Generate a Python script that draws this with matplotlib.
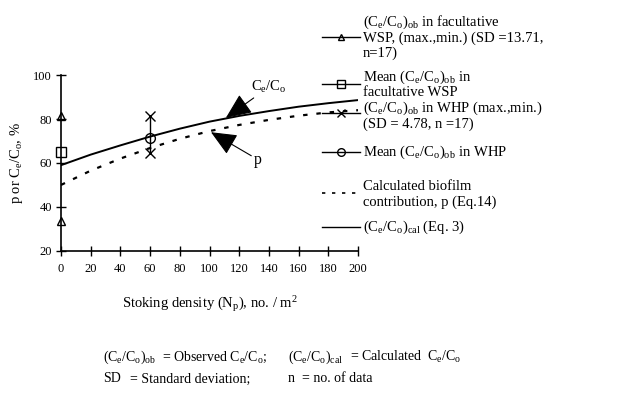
import matplotlib
matplotlib.use("Agg")
import matplotlib.pyplot as plt
from matplotlib.lines import Line2D

plt.rcParams['font.family'] = ['Liberation Serif', 'DejaVu Serif']
plt.rcParams['mathtext.fontset'] = 'custom'
plt.rcParams['mathtext.rm'] = 'Liberation Serif'
plt.rcParams['mathtext.it'] = 'Liberation Serif:italic'

# data
density = [0, 20, 40, 60, 80, 100, 120, 140, 160, 180, 200]
ce_co_cal = [59.0, 63.8, 68.0, 72.0, 75.6, 78.8, 81.4, 83.6, 85.6, 87.2, 88.6]
p_calc = [50.0, 56.5, 62.0, 66.8, 71.0, 74.5, 77.3, 79.6, 81.5, 83.0, 84.0]

wsp_x = [0, 0]
wsp_maxmin = [81.2, 33.5]
wsp_mean = [65.2]
whp_x = [60, 60]
whp_maxmin = [81.5, 64.5]
whp_mean = [71.5]

fig = plt.figure(figsize=(6.4, 3.97), dpi=100)
ax = fig.add_axes([0.0953, 0.368, 0.4641, 0.443])

ax.plot(density, ce_co_cal, color='black', lw=1.4)
ax.plot(density, p_calc, color='black', lw=1.6, linestyle=(0, (2, 4)))

ax.plot(whp_x, whp_maxmin, color='black', lw=1.0, marker='x', ms=7, clip_on=False)
ax.plot(whp_x[:1], whp_mean, color='black', marker='o', ms=7, mfc='none', clip_on=False)
ax.plot(wsp_x, wsp_maxmin, color='black', lw=0, marker='^', ms=6, mfc='none', clip_on=False)
ax.plot(wsp_x[:1], wsp_mean, color='black', marker='s', ms=6.5, mfc='none', clip_on=False)

ax.set_xlim(0, 200)
ax.set_ylim(20, 100)
ax.set_xticks(range(0, 201, 20))
ax.set_yticks(range(20, 101, 20))
for s in ['top', 'right']:
    ax.spines[s].set_visible(False)
ax.spines['left'].set_linewidth(1.2)
ax.spines['bottom'].set_linewidth(1.2)
ax.tick_params(direction='inout', length=7, width=1.0, labelsize=9, pad=3)
ax.tick_params(axis='x', pad=5)

ax.set_xlabel(r'Stoking density (N$_\mathregular{p}$), no. / m$^\mathregular{2}$', fontsize=10.5, labelpad=14)
ax.set_ylabel(r'p or C$_\mathregular{e}$/C$_\mathregular{o}$, %', fontsize=10.5, labelpad=6)

arrow = dict(arrowstyle='-|>,head_length=1.6,head_width=0.7', color='black', lw=0.8,
             mutation_scale=10, shrinkA=0, shrinkB=0)
ax.annotate(r'C$_\mathregular{e}$/C$_\mathregular{o}$', xy=(111, 80.5), xytext=(128, 94.5),
            fontsize=10.5, va='center', ha='left', arrowprops=arrow)
ax.annotate('p', xy=(101, 74.0), xytext=(130, 61.5), fontsize=11.5,
            va='center', ha='left', arrowprops=arrow)

# legend, drawn by hand in figure pixels
W, H = 640.0, 397.0
def fx(x):
    return x / W
def fy(y):
    return 1 - y / H

handles = [
    (37, '^', 5, '-', 1.0),
    (84, 's', 5.5, '-', 1.0),
    (113, 'x', 6, '-', 1.0),
    (152, 'o', 5.5, '-', 1.0),
    (193, None, 0, (0, (2, 4)), 1.2),
    (227, None, 0, '-', 1.0),
]
for yy, mk, ms, ls, lw in handles:
    fig.add_artist(Line2D([fx(322), fx(360)], [fy(yy), fy(yy)], color='black', lw=lw, ls=ls))
    if mk:
        fig.add_artist(Line2D([fx(341)], [fy(yy)], color='black', lw=0,
                              marker=mk, ms=ms, mfc='none'))

cc = r'(C$_\mathregular{e}$/C$_\mathregular{o}$)'
legend_lines = [
    (22, cc + r'$_\mathregular{ob}$ in facultative'),
    (38, 'WSP, (max.,min.) (SD =13.71,'),
    (53, 'n=17)'),
    (77, 'Mean ' + cc + r'$_\mathregular{ob}$ in'),
    (93, 'facultative WSP'),
    (108, cc + r'$_\mathregular{ob}$ in WHP (max.,min.)'),
    (124, '(SD = 4.78, n =17)'),
    (152, 'Mean ' + cc + r'$_\mathregular{ob}$ in WHP'),
    (186, 'Calculated biofilm'),
    (202, 'contribution, p (Eq.14)'),
    (227, cc + r'$_\mathregular{cal}$ (Eq. 3)'),
]
for yy, txt in legend_lines:
    fig.text(fx(363), fy(yy), txt, fontsize=10.5, va='center', ha='left')

notes = [
    (103, 357, cc + r'$_\mathregular{ob}$'),
    (162, 357, r'= Observed C$_\mathregular{e}$/C$_\mathregular{o}$;'),
    (288, 357, cc + r'$_\mathregular{cal}$'),
    (350, 357, r'= Calculated  C$_\mathregular{e}$/C$_\mathregular{o}$'),
    (103, 379, 'SD'),
    (130, 379, '= Standard deviation;'),
    (288, 379, 'n  = no. of data'),
]
for xx, yy, txt in notes:
    fig.text(fx(xx), fy(yy), txt, fontsize=10, va='center', ha='left')

fig.savefig('out.png', dpi=100)
